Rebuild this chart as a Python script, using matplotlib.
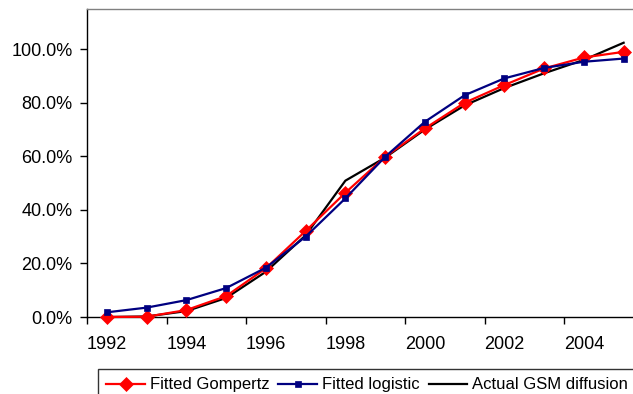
import matplotlib
matplotlib.use("Agg")
import matplotlib.pyplot as plt
import numpy as np
from matplotlib.ticker import FuncFormatter, FixedLocator

years = [1992, 1993, 1994, 1995, 1996, 1997, 1998, 1999, 2000, 2001, 2002, 2003, 2004, 2005]
gompertz = [0.0, 0.1, 2.6, 7.8, 18.2, 32.1, 46.4, 59.8, 70.4, 80.0, 86.6, 92.8, 96.9, 99.0]
logistic = [1.75, 3.5, 6.3, 10.8, 18.4, 30.0, 44.3, 59.8, 72.9, 82.8, 89.1, 93.0, 95.3, 96.5]
actual = [0.0, 0.2, 2.2, 7.1, 16.9, 30.5, 50.9, 59.5, 70.0, 79.0, 85.5, 91.0, 96.0, 102.4]
year_labels = [str(y) for y in years[::2]]
y_ticks = [0, 20, 40, 60, 80, 100]

plt.rcParams['font.family'] = ['Liberation Sans', 'DejaVu Sans']

fig = plt.figure(figsize=(6.33, 3.94), dpi=100)
W, H = 633, 394
left, right, top, bottom = 87, 643.5, 9, 317
ax = fig.add_axes([left / W, 1 - bottom / H, (right - left) / W, (bottom - top) / H])

x = np.arange(len(years))
l_act, = ax.plot(x, np.array(actual) / 100, color='black', lw=1.6, zorder=3,
                 label='Actual GSM diffusion', clip_on=False)
l_gom, = ax.plot(x, np.array(gompertz) / 100, color='#FF0000', lw=1.6, marker='D',
                 markersize=7.5, markeredgewidth=0.5, zorder=4, label='Fitted Gompertz', clip_on=False)
l_log, = ax.plot(x, np.array(logistic) / 100, color='#000080', lw=1.6, marker='s',
                 markersize=5, markeredgewidth=0.5, zorder=5, label='Fitted logistic', clip_on=False)

ax.set_xlim(-0.5, len(years) - 0.5)
ax.set_ylim(0, 1.15)

# category axis: tick marks between every two categories, labels on even categories
ax.xaxis.set_major_locator(FixedLocator(np.arange(-0.5, len(years), 2)))
ax.xaxis.set_major_formatter(FuncFormatter(lambda v, p: ''))
ax.xaxis.set_minor_locator(FixedLocator(x[::2]))
ax.set_xticklabels(year_labels, minor=True)
ax.tick_params(axis='x', which='major', direction='out', length=5, width=1, color='black')
ax.tick_params(axis='x', which='minor', length=0, pad=14, labelsize=13)

ax.set_yticks([v / 100 for v in y_ticks])
ax.yaxis.set_major_formatter(FuncFormatter(lambda v, p: f"{v*100:.1f}%"))
ax.tick_params(axis='y', direction='out', length=5, width=1, pad=5.5, labelsize=13)

for s in ['left', 'bottom']:
    ax.spines[s].set_color('black')
    ax.spines[s].set_linewidth(1)
ax.spines['top'].set_color('#808080')
ax.spines['top'].set_linewidth(1)
ax.spines['right'].set_visible(False)

leg = fig.legend(handles=[l_gom, l_log, l_act], loc='upper left',
                 bbox_to_anchor=(98 / W, 1 - 369 / H), ncol=3, frameon=True,
                 fancybox=False, edgecolor='black', fontsize=12, handlelength=2.3,
                 handletextpad=0.3, columnspacing=0.55, borderpad=0.5, borderaxespad=0)
leg.get_frame().set_linewidth(1)

fig.savefig('out.png', dpi=100)
